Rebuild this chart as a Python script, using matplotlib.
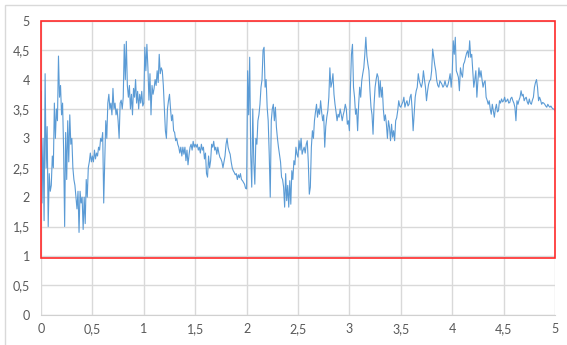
import numpy as np
import matplotlib.pyplot as plt
from matplotlib.patches import Rectangle
from matplotlib.ticker import FuncFormatter

# samples every 0.01 s, one list per second of signal
sec0 = [3.8, 1.9, 3.0, 1.6, 4.1, 2.5, 3.2, 1.5, 2.4, 2.1,
        2.2, 2.7, 2.5, 3.6, 3.0, 3.5, 3.3, 4.4, 3.7, 3.9,
        3.4, 3.6, 2.8, 1.5, 3.1, 2.3, 3.3, 2.6, 3.4, 2.9,
        3.0, 2.5, 2.3, 2.2, 2.0, 1.8, 2.1, 1.4, 2.1, 1.9,
        2.0, 1.45, 2.0, 1.55, 2.3, 2.0, 2.5, 2.6, 2.75, 2.6,
        2.7, 2.6, 2.8, 2.65, 2.75, 2.7, 2.85, 2.8, 3.0, 2.95,
        3.1, 1.9, 2.6, 3.3, 3.0, 3.6, 3.75, 3.5, 3.6, 3.4,
        3.85, 3.5, 3.6, 3.4, 3.5, 3.3, 3.0, 3.6, 3.65, 3.5,
        3.7, 4.6, 4.0, 4.65, 3.9, 3.7, 3.9, 3.5, 3.75, 3.4,
        3.85, 3.7, 4.0, 3.6, 3.8, 3.5, 3.75, 3.6, 3.8, 3.55]
sec1 = [3.6, 4.55, 4.15, 4.6, 4.2, 3.65, 4.1, 3.4, 3.9, 3.75,
        3.85, 4.0, 3.9, 4.15, 3.95, 4.43, 4.1, 4.2, 4.15, 3.9,
        3.5, 3.13, 3.0, 3.5, 3.64, 3.75, 3.5, 3.3, 3.4, 3.13,
        3.1, 2.96, 3.0, 2.9, 2.85, 2.75, 2.85, 2.7, 2.85, 2.73,
        2.85, 2.62, 2.8, 2.55, 2.72, 2.85, 2.9, 2.8, 2.95, 2.85,
        2.9, 2.85, 2.9, 2.8, 2.85, 2.75, 2.9, 2.8, 2.85, 2.65,
        2.75, 2.4, 2.34, 2.7, 2.5, 2.62, 2.9, 2.85, 2.95, 2.8,
        2.85, 2.73, 2.85, 2.75, 2.68, 2.65, 2.6, 2.5, 2.6, 2.7,
        2.9, 3.0, 2.85, 2.78, 2.73, 2.6, 2.5, 2.45, 2.42, 2.38,
        2.4, 2.3, 2.38, 2.33, 2.4, 2.3, 2.28, 2.25, 2.22, 2.15]
sec2 = [2.14, 4.15, 3.4, 4.38, 2.73, 2.17, 3.5, 2.6, 2.22, 3.0,
        2.9, 3.3, 3.4, 3.58, 3.87, 4.0, 4.5, 4.55, 3.87, 4.0,
        3.53, 3.3, 2.73, 2.0, 3.3, 3.5, 3.58, 3.3, 3.53, 3.19,
        3.0, 2.85, 2.73, 2.6, 2.34, 2.3, 2.17, 1.83, 2.4, 1.94,
        2.2, 1.83, 2.28, 1.88, 2.45, 2.3, 2.62, 2.55, 2.85, 2.73,
        2.68, 2.96, 2.8, 3.0, 2.73, 2.8, 2.85, 2.75, 2.9, 2.96,
        2.6, 2.05, 2.17, 2.85, 3.13, 3.0, 3.3, 3.45, 3.58, 3.36,
        3.5, 3.41, 3.64, 3.45, 3.3, 3.4, 2.85, 3.2, 3.36, 3.47,
        3.7, 4.2, 3.87, 3.95, 4.1, 3.75, 3.58, 3.45, 3.3, 3.41,
        3.36, 3.5, 3.41, 3.3, 3.4, 3.47, 3.58, 3.5, 3.24, 3.3]
sec3 = [3.13, 3.87, 4.43, 4.6, 3.87, 3.7, 3.41, 3.5, 3.13, 3.58,
        3.87, 3.7, 3.98, 4.1, 4.2, 4.43, 4.72, 4.4, 4.26, 4.15,
        3.81, 3.53, 3.4, 3.07, 3.58, 3.87, 4.0, 4.1, 4.04, 3.7,
        3.98, 3.7, 3.87, 3.5, 3.3, 3.4, 3.24, 3.0, 3.3, 3.19,
        2.96, 3.24, 3.02, 3.13, 2.96, 3.3, 3.35, 3.47, 3.64, 3.55,
        3.53, 3.58, 3.62, 3.7, 3.53, 3.6, 3.64, 3.55, 3.58, 3.7,
        3.75, 3.5, 3.13, 3.41, 3.7, 3.81, 3.87, 4.1, 3.98, 3.92,
        3.87, 3.95, 4.15, 4.0, 3.87, 3.64, 3.8, 3.92, 3.98, 4.0,
        4.15, 4.52, 4.38, 4.25, 4.15, 3.98, 3.9, 3.87, 3.98, 3.95,
        3.92, 3.87, 3.9, 3.98, 3.9, 3.87, 3.92, 4.0, 4.1, 3.87]
sec4 = [4.1, 4.66, 4.43, 4.72, 4.15, 4.1, 4.04, 3.81, 4.2, 4.1,
        4.04, 4.26, 4.3, 4.38, 4.45, 4.49, 4.38, 4.66, 4.38, 4.43,
        4.15, 3.87, 4.0, 4.15, 3.7, 3.98, 4.2, 4.04, 4.15, 4.0,
        3.87, 3.95, 3.98, 3.7, 3.65, 3.58, 3.64, 3.5, 3.41, 3.58,
        3.47, 3.36, 3.5, 3.58, 3.45, 3.47, 3.64, 3.6, 3.67, 3.62,
        3.64, 3.7, 3.62, 3.64, 3.67, 3.6, 3.61, 3.68, 3.7, 3.64,
        3.6, 3.53, 3.3, 3.64, 3.58, 3.65, 3.7, 3.81, 3.72, 3.75,
        3.64, 3.68, 3.7, 3.62, 3.58, 3.67, 3.6, 3.58, 3.65, 3.7,
        3.87, 3.95, 4.0, 3.87, 3.64, 3.7, 3.65, 3.58, 3.61, 3.6,
        3.58, 3.55, 3.53, 3.58, 3.55, 3.53, 3.55, 3.52, 3.5, 3.5,
        3.47]

signal = sec0 + sec1 + sec2 + sec3 + sec4
t = np.arange(len(signal)) * 0.01

ticks = [0, 0.5, 1, 1.5, 2, 2.5, 3, 3.5, 4, 4.5, 5]

plt.rcParams['font.family'] = ['Lato', 'DejaVu Sans']

fig = plt.figure(figsize=(5.67, 3.45), dpi=100)
ax = fig.add_axes([41 / 567, 30.3 / 345, 514 / 567, 293.9 / 345])

ax.plot(t, signal, color='#5B9BD5', lw=0.8, zorder=3)

ax.set_xlim(0, 5)
ax.set_ylim(0, 5)
ax.set_xticks(ticks)
ax.set_yticks(ticks)
fmt = FuncFormatter(lambda v, p: ('%g' % v).replace('.', ','))
ax.xaxis.set_major_formatter(fmt)
ax.yaxis.set_major_formatter(fmt)
ax.tick_params(length=0, labelsize=9, labelcolor='#595959')
ax.tick_params(axis='y', pad=8)
ax.tick_params(axis='x', pad=6)
ax.grid(True, color='#D9D9D9', lw=1)
ax.set_axisbelow(True)
for s in ['top', 'right', 'left']:
    ax.spines[s].set_visible(False)
ax.spines['bottom'].set_color('#D0D0D0')

# red box around the signal band
ax.add_patch(Rectangle((0, 0.97), 5, 4.03, fill=False, edgecolor='#FF2A2A',
                       lw=1.2, zorder=4, clip_on=False))

# outer chart frame
fig.patches.append(Rectangle((5 / 567, -0.2), 1.2, (345 - 5) / 345 + 0.2,
                             transform=fig.transFigure, fill=False,
                             edgecolor='#D9D9D9', lw=1))

fig.savefig('out.png', dpi=100)
